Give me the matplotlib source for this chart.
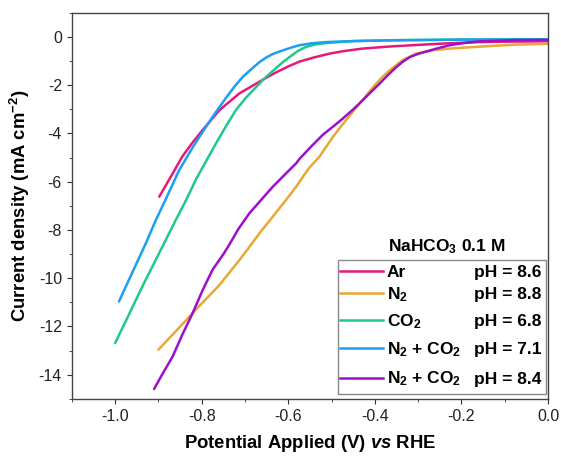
import matplotlib
matplotlib.use("Agg")
import matplotlib.pyplot as plt
from matplotlib.patches import Rectangle
from matplotlib.ticker import MultipleLocator

plt.rcParams['font.family'] = ['Liberation Sans', 'DejaVu Sans']
plt.rcParams['axes.unicode_minus'] = False
plt.rcParams['mathtext.fontset'] = 'custom'
plt.rcParams['mathtext.rm'] = 'Liberation Sans:bold'
plt.rcParams['mathtext.bf'] = 'Liberation Sans:bold'
plt.rcParams['mathtext.it'] = 'Liberation Sans:italic:bold'
plt.rcParams['mathtext.default'] = 'rm'

# LSV curves (V vs RHE, mA cm-2)
ar_v = [-0.898, -0.870, -0.845, -0.820, -0.798, -0.759, -0.713, -0.674, -0.634, -0.600,
        -0.574, -0.543, -0.505, -0.470, -0.428, -0.370, -0.312, -0.240, -0.157, -0.080, 0.0]
ar_j = [-6.62, -5.75, -4.96, -4.35, -3.86, -3.03, -2.34, -1.93, -1.52, -1.22,
        -1.02, -0.86, -0.69, -0.58, -0.48, -0.40, -0.34, -0.27, -0.21, -0.19, -0.18]

n2_v = [-0.900, -0.860, -0.814, -0.760, -0.713, -0.694, -0.665, -0.636, -0.605, -0.582,
        -0.553, -0.528, -0.497, -0.478, -0.451, -0.428, -0.404, -0.385, -0.366, -0.336,
        -0.305, -0.266, -0.227, -0.157, -0.080, 0.0]
n2_j = [-12.96, -12.20, -11.31, -10.30, -9.25, -8.80, -8.10, -7.45, -6.75, -6.21,
        -5.45, -4.96, -4.14, -3.70, -3.10, -2.60, -2.07, -1.70, -1.38, -0.96,
        -0.69, -0.55, -0.48, -0.40, -0.32, -0.28]

co2_v = [-1.000, -0.968, -0.937, -0.905, -0.875, -0.860, -0.836, -0.814, -0.790, -0.767,
         -0.744, -0.721, -0.698, -0.674, -0.654, -0.634, -0.615, -0.597, -0.578, -0.559,
         -0.535, -0.512, -0.450, -0.350, -0.200, 0.0]
co2_j = [-12.69, -11.50, -10.34, -9.20, -8.13, -7.59, -6.76, -5.93, -5.15, -4.41,
         -3.70, -3.03, -2.52, -2.07, -1.70, -1.38, -1.08, -0.83, -0.58, -0.41,
         -0.30, -0.25, -0.17, -0.13, -0.11, -0.10]

mix71_v = [-0.991, -0.960, -0.929, -0.906, -0.884, -0.852, -0.820, -0.790, -0.766, -0.742,
           -0.724, -0.705, -0.682, -0.665, -0.650, -0.635, -0.620, -0.597, -0.574, -0.545,
           -0.512, -0.450, -0.360, -0.200, 0.0]
mix71_j = [-10.96, -9.75, -8.55, -7.59, -6.76, -5.52, -4.55, -3.72, -3.08, -2.48,
           -2.05, -1.65, -1.28, -1.02, -0.84, -0.70, -0.60, -0.46, -0.34, -0.26,
           -0.21, -0.17, -0.14, -0.11, -0.10]

mix84_v = [-0.910, -0.890, -0.867, -0.845, -0.821, -0.798, -0.775, -0.748, -0.736, -0.715,
           -0.690, -0.663, -0.636, -0.605, -0.582, -0.574, -0.545, -0.520, -0.497, -0.474,
           -0.450, -0.428, -0.409, -0.389, -0.370, -0.350, -0.335, -0.319, -0.300, -0.281,
           -0.255, -0.227, -0.190, -0.157, -0.080, 0.0]
mix84_j = [-14.59, -13.95, -13.24, -12.35, -11.45, -10.50, -9.65, -8.95, -8.60, -7.95,
           -7.31, -6.76, -6.21, -5.65, -5.24, -5.05, -4.50, -4.05, -3.72, -3.38,
           -3.00, -2.62, -2.28, -1.93, -1.58, -1.24, -1.02, -0.83, -0.70, -0.60,
           -0.47, -0.34, -0.24, -0.18, -0.13, -0.12]

gas_labels = ['Ar', 'N$_2$', 'CO$_2$', 'N$_2$ + CO$_2$', 'N$_2$ + CO$_2$']
ph_labels = ['pH = 8.6', 'pH = 8.8', 'pH = 6.8', 'pH = 7.1', 'pH = 8.4']
colors = ['#e8177a', '#e8a832', '#1ec98a', '#1a9ff5', '#9a10cc']

fig = plt.figure(figsize=(5.61, 4.59), dpi=100)
ax = fig.add_axes([0.128, 0.131, 0.849, 0.841])

series = [(ar_v, ar_j), (n2_v, n2_j), (co2_v, co2_j), (mix71_v, mix71_j), (mix84_v, mix84_j)]
for (v, j), c in zip(series, colors):
    ax.plot(v, j, color=c, lw=1.8, solid_capstyle='round', solid_joinstyle='round')

ax.set_xlim(-1.1, 0.0)
ax.set_ylim(-15, 1)
ax.xaxis.set_minor_locator(MultipleLocator(0.1))
ax.yaxis.set_major_locator(MultipleLocator(2))
ax.yaxis.set_minor_locator(MultipleLocator(1))
ax.set_xticks([-1.0, -0.8, -0.6, -0.4, -0.2, 0.0])
ax.set_xticklabels(['-1.0', '-0.8', '-0.6', '-0.4', '-0.2', '0.0'])
ax.tick_params(which='both', direction='out', top=False, right=False,
               labelsize=11.5, colors='#333333', labelcolor='#222222')
ax.tick_params(which='major', length=3.6)
ax.tick_params(which='minor', length=2.2)
for s in ax.spines.values():
    s.set_color('#444444')
    s.set_linewidth(1.0)

ax.set_xlabel(r'Potential Applied (V) $\mathit{vs}$ RHE', fontsize=13.3, fontweight='bold', labelpad=7)
ax.set_ylabel(r'Current density (mA cm$^{-2}$)', fontsize=13.3, fontweight='bold', labelpad=5)

# hand-built legend box with gas and pH columns
def fx(px):
    return (px - 72) / 476.0

def fy(py):
    return (398 - py) / 385.0

ax.add_patch(Rectangle((fx(338), fy(393)), fx(546) - fx(338), fy(259) - fy(393),
                       transform=ax.transAxes, fill=False, ec='#888888', lw=1.0))
ax.text(fx(447), fy(251), 'NaHCO$_3$ 0.1 M', transform=ax.transAxes,
        ha='center', va='baseline', fontsize=12.5, fontweight='bold')
row_y = [270.7, 292.0, 319.3, 347.3, 376.7]
for ry, c, g, p in zip(row_y, colors, gas_labels, ph_labels):
    ax.plot([fx(340), fx(383)], [fy(ry), fy(ry)], transform=ax.transAxes, color=c, lw=1.8)
    ax.text(fx(387), fy(ry + 6.2), g, transform=ax.transAxes, ha='left', va='baseline',
            fontsize=12.5, fontweight='bold')
    ax.text(fx(541), fy(ry + 6.2), p, transform=ax.transAxes, ha='right', va='baseline',
            fontsize=12.5, fontweight='bold')

fig.savefig('out.png', dpi=100)
